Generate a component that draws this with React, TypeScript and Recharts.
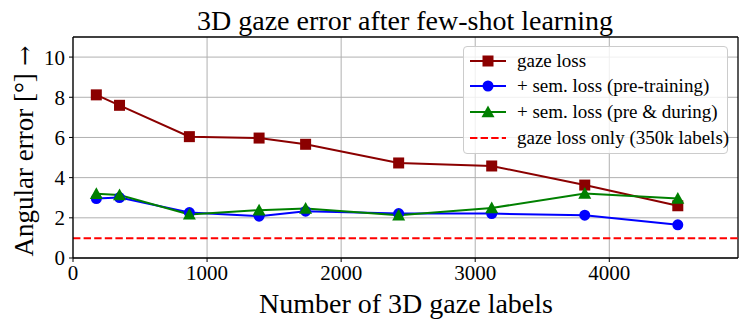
import React from "react";
import {
  LineChart,
  Line,
  XAxis,
  YAxis,
  CartesianGrid,
  ReferenceLine,
} from "recharts";

// number of 3D gaze labels used for few-shot learning
const numLabels = [174, 347, 868, 1388, 1735, 2429, 3123, 3817, 4511];
const gazeLoss = [8.12, 7.6, 6.04, 5.97, 5.66, 4.73, 4.58, 3.63, 2.6];
const semPre = [2.96, 3.01, 2.26, 2.08, 2.33, 2.21, 2.21, 2.13, 1.65];
const semDuring = [3.2, 3.13, 2.17, 2.38, 2.46, 2.13, 2.49, 3.21, 2.96];
const fullBaseline = 0.98;

const xTicks = [0, 1000, 2000, 3000, 4000];
const yTicks = [0, 2, 4, 6, 8, 10];
const X_MAX = 4960;
const Y_MAX = 11;

const data = numLabels.map((n, i) => ({
  n,
  gaze: gazeLoss[i],
  pre: semPre[i],
  during: semDuring[i],
}));

const FONT = "'Liberation Serif', 'DejaVu Serif', serif";
const DARKRED = "#8b0000";
const BLUE = "#0000ff";
const GREEN = "#008000";
const RED = "#ff0000";

const SquareDot = (props: any) => {
  const { cx, cy, index } = props;
  if (cx == null || cy == null) return null;
  return <rect key={`sq-${index}`} x={cx - 5.5} y={cy - 5.5} width={11} height={11} fill={DARKRED} />;
};

const CircleDot = (props: any) => {
  const { cx, cy, index } = props;
  if (cx == null || cy == null) return null;
  return <circle key={`ci-${index}`} cx={cx} cy={cy} r={5.5} fill={BLUE} />;
};

const TriangleDot = (props: any) => {
  const { cx, cy, index } = props;
  if (cx == null || cy == null) return null;
  const s = 6.5;
  return (
    <path
      key={`tr-${index}`}
      d={`M${cx},${cy - s} L${cx + s},${cy + s * 0.8} L${cx - s},${cy + s * 0.8} Z`}
      fill={GREEN}
    />
  );
};

const legendItems = [
  { label: "gaze loss", color: DARKRED, marker: "square" },
  { label: "+ sem. loss (pre-training)", color: BLUE, marker: "circle" },
  { label: "+ sem. loss (pre & during)", color: GREEN, marker: "triangle" },
  { label: "gaze loss only (350k labels)", color: RED, marker: "dash" },
];

const LegendBox = () => (
  <div
    style={{
      position: "absolute",
      left: 463,
      top: 46,
      width: 265,
      height: 108,
      background: "rgba(255,255,255,0.8)",
      border: "1px solid #cccccc",
      borderRadius: 4,
      fontFamily: FONT,
      fontSize: 19,
      color: "#000",
      boxSizing: "border-box",
      paddingTop: 1,
    }}
  >
    {legendItems.map((it) => (
      <div key={it.label} style={{ display: "flex", alignItems: "center", height: 25.6 }}>
        <svg width={48} height={20} style={{ marginLeft: 5, flex: "none" }}>
          {it.marker === "dash" ? (
            <line x1={1} y1={10} x2={37} y2={10} stroke={it.color} strokeWidth={2} strokeDasharray="7.4 3.2" />
          ) : (
            <line x1={1} y1={10} x2={37} y2={10} stroke={it.color} strokeWidth={2} />
          )}
          {it.marker === "square" && <rect x={13.5} y={4.5} width={11} height={11} fill={it.color} />}
          {it.marker === "circle" && <circle cx={19} cy={10} r={5.5} fill={it.color} />}
          {it.marker === "triangle" && <path d="M19,3.5 L25.5,15.2 L12.5,15.2 Z" fill={it.color} />}
        </svg>
        <span style={{ whiteSpace: "nowrap" }}>{it.label}</span>
      </div>
    ))}
  </div>
);

export default function App() {
  return (
    <div style={{ position: "absolute", left: 0, top: 0, width: 747, height: 328, background: "#fff" }}>
      <LineChart
        width={747}
        height={328}
        data={data}
        margin={{ top: 37, right: 9, bottom: 0, left: 0 }}
      >
        <CartesianGrid stroke="#b0b0b0" strokeWidth={1} horizontalValues={yTicks} verticalValues={xTicks} />
        <XAxis
          dataKey="n"
          type="number"
          domain={[0, X_MAX]}
          ticks={xTicks}
          height={70}
          stroke="#000"
          axisLine={{ stroke: "#000", strokeWidth: 1.3 }}
          tickLine={{ stroke: "#000" }}
          tickSize={4}
          tickMargin={3}
          tick={{ fill: "#000", fontFamily: FONT, fontSize: 21 }}
          allowDataOverflow
        />
        <YAxis
          type="number"
          domain={[0, Y_MAX]}
          ticks={yTicks}
          width={73}
          stroke="#000"
          axisLine={{ stroke: "#000", strokeWidth: 1.3 }}
          tickLine={{ stroke: "#000" }}
          tickSize={4}
          tickMargin={4}
          tick={{ fill: "#000", fontFamily: FONT, fontSize: 21 }}
          allowDataOverflow
        />
        <ReferenceLine y={Y_MAX} stroke="#000" strokeWidth={1.3} />
        <ReferenceLine x={X_MAX} stroke="#000" strokeWidth={1.3} />
        <Line
          dataKey="gaze"
          stroke={DARKRED}
          strokeWidth={2}
          dot={SquareDot}
          isAnimationActive={false}
        />
        <Line
          dataKey="pre"
          stroke={BLUE}
          strokeWidth={2}
          dot={CircleDot}
          isAnimationActive={false}
        />
        <Line
          dataKey="during"
          stroke={GREEN}
          strokeWidth={2}
          dot={TriangleDot}
          isAnimationActive={false}
        />
        <ReferenceLine y={fullBaseline} stroke={RED} strokeWidth={2} strokeDasharray="7.4 3.2" />
      </LineChart>
      <LegendBox />
      <svg
        width={747}
        height={328}
        style={{ position: "absolute", left: 0, top: 0, pointerEvents: "none" }}
      >
        <text x={405} y={30} textAnchor="middle" fontFamily={FONT} fontSize={28} fill="#000">
          3D gaze error after few-shot learning
        </text>
        <text x={406} y={313} textAnchor="middle" fontFamily={FONT} fontSize={28} fill="#000">
          Number of 3D gaze labels
        </text>
        <text
          x={0}
          y={0}
          transform="translate(33,151) rotate(-90)"
          textAnchor="middle"
          fontFamily={FONT}
          fontSize={27}
          fill="#000"
        >
          Angular error [°]<tspan fontFamily="'DejaVu Serif', serif" fontSize={24}>{" →"}</tspan>
        </text>
      </svg>
    </div>
  );
}
